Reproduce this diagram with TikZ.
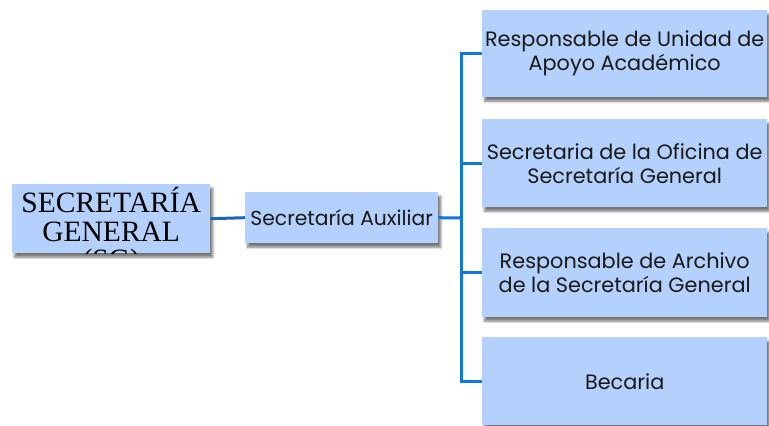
\documentclass[tikz,border=0pt]{standalone}
\usepackage{fontspec}
\setmainfont{Liberation Serif}
\newfontfamily\gothic{Poppins}
\usetikzlibrary{shadows.blur}
\definecolor{boxfill}{RGB}{180,208,252}
\definecolor{linkblue}{RGB}{16,120,220}
\definecolor{linkdark}{RGB}{30,100,190}
\tikzset{
  box/.style={draw=none, fill=boxfill, anchor=north west, inner sep=0pt,
    blur shadow={shadow xshift=2.5pt, shadow yshift=-4pt, shadow blur radius=2.5pt, shadow opacity=55}},
  link/.style={draw=linkblue, line width=3pt},
  gtext/.style={font=\gothic\fontsize{20.8}{24}\selectfont, align=center, text=black!90}
}
\begin{document}
\begin{tikzpicture}[x=1pt,y=1pt]
\useasboundingbox (0,0) rectangle (769,-426);
% SG box (text clipped)
\node[box, minimum width=198pt, minimum height=69pt,
  path picture={\node[anchor=north, align=center, inner sep=0pt,
     font=\fontsize{29.5}{28.5}\selectfont]
     at ([yshift=-3pt]path picture bounding box.north) {SECRETARÍA\\GENERAL\\(SG)};}]
  (sg) at (12,-184) {};
\node[box, gtext, font=\gothic\fontsize{20.3}{24}\selectfont, minimum width=193pt, minimum height=51pt] (aux) at (245,-192) {Secretaría Auxiliar};
\node[box, gtext, minimum width=285pt, minimum height=87pt] (b1) at (482,-10) {Responsable de Unidad de\\Apoyo Académico};
\node[box, gtext, minimum width=285pt, minimum height=88pt] (b2) at (482,-119) {Secretaria de la Oficina de\\Secretaría General};
\node[box, gtext, minimum width=285pt, minimum height=89pt] (b3) at (482,-228) {Responsable de Archivo\\de la Secretaría General};
\node[box, gtext, minimum width=285pt, minimum height=88pt] (b4) at (482,-337) {Becaria};
\coordinate (bus) at (461,-218);
\draw[link, draw=linkdark] (sg.east) -- (aux.west);
\draw[link] (aux.east) -- (bus);
\draw[link] (b1.west) -| (bus |- b4.west) -- (b4.west);
\draw[link] (b2.west) -- (b2.west -| bus);
\draw[link] (b3.west) -- (b3.west -| bus);
\end{tikzpicture}
\end{document}
